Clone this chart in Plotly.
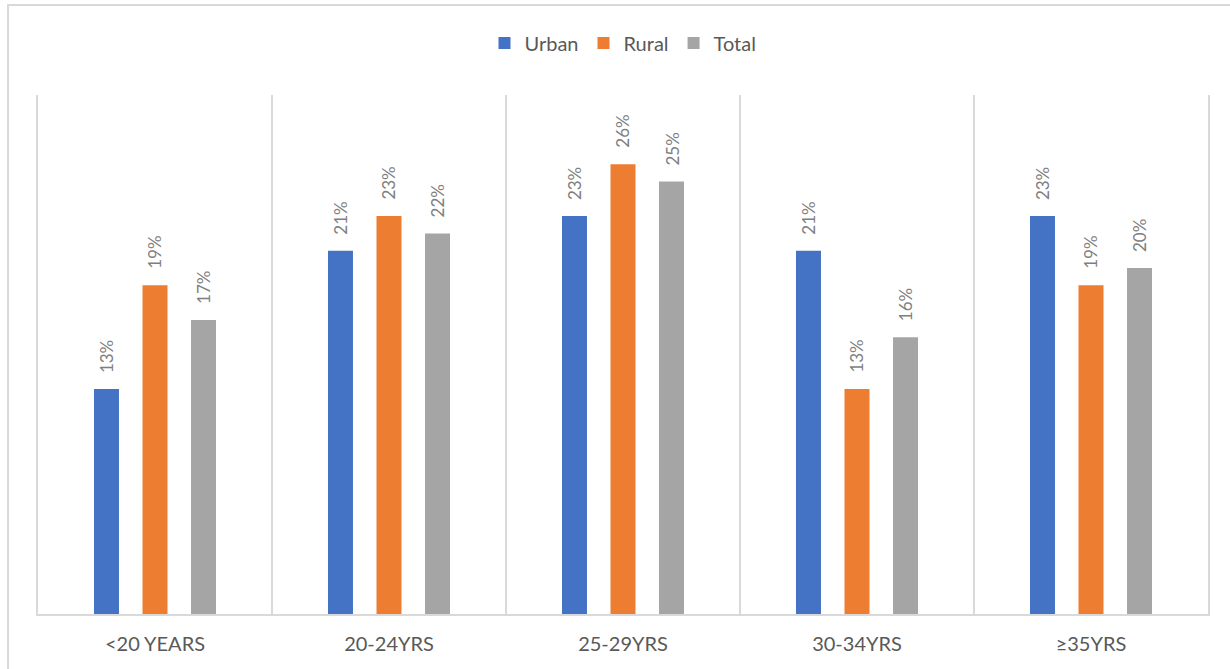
import plotly.graph_objects as go

categories = ["<20 YEARS", "20-24YRS", "25-29YRS", "30-34YRS", "≥35YRS"]
urban = [13, 21, 23, 21, 23]
rural = [19, 23, 26, 13, 19]
total = [17, 22, 25, 16, 20]

series = [("Urban", urban, "#4472C4"), ("Rural", rural, "#ED7D31"), ("Total", total, "#A5A5A5")]
shifts = [-48.5, 0, 48.5]

fig = go.Figure()
annotations = []
for (name, vals, color), sh in zip(series, shifts):
    fig.add_trace(go.Bar(name=name, x=categories, y=vals, marker=dict(color=color, line=dict(width=0))))
    for c, v in zip(categories, vals):
        annotations.append(dict(x=c, y=v, xref="x", yref="y", text=f"{v}%", showarrow=False,
                                textangle=-90, xshift=sh, yshift=14, yanchor="bottom",
                                font=dict(size=17, color="#7f7f7f", family="Lato")))

fig.update_layout(
    width=1230, height=669,
    margin=dict(l=38, r=22, t=95, b=55),
    paper_bgcolor="white", plot_bgcolor="white",
    barmode="group", bargap=0.378, bargroupgap=0.485,
    font=dict(family="Lato", color="#595959"),
    legend=dict(orientation="h", x=0.5, xanchor="center", y=1.1, yanchor="middle",
                font=dict(size=20, color="#595959"), itemwidth=30, traceorder="normal"),
    annotations=annotations,
    xaxis=dict(tickson="boundaries", showgrid=True, gridcolor="#d9d9d9", gridwidth=1.5,
               showline=True, linecolor="#d9d9d9", linewidth=1.5, ticks="",
               tickfont=dict(size=20, color="#595959", family="Lato"), ticklabelstandoff=11),
    yaxis=dict(range=[0, 30], showgrid=False, showticklabels=False, zeroline=False,
               showline=True, mirror=True, linecolor="#d9d9d9", linewidth=1.5, ticks=""),
    shapes=[dict(type="rect", xref="paper", yref="paper", x0=-0.0256, x1=1.03, y0=-0.13, y1=1.1734,
                 line=dict(color="#d9d9d9", width=2), fillcolor="rgba(0,0,0,0)", layer="below")],
)

fig.write_html("out.html")
